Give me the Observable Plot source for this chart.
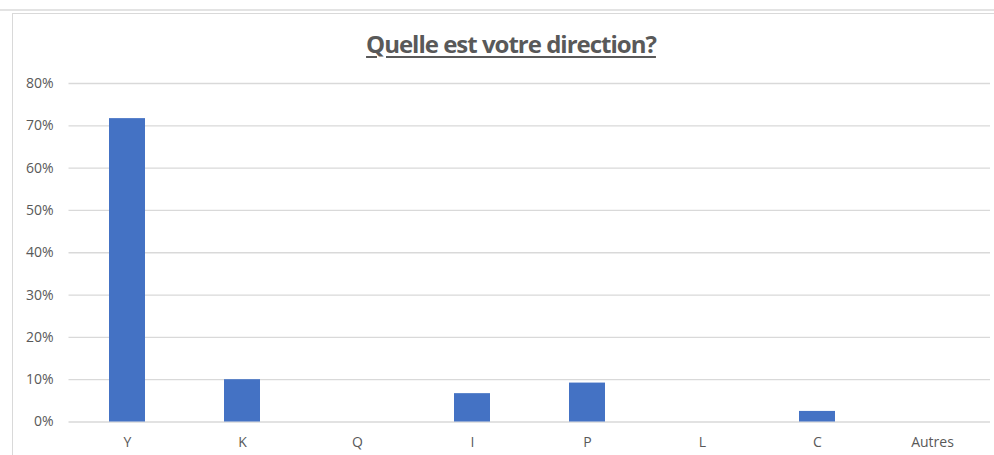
<!DOCTYPE html>
<html>
<head>
<meta charset="utf-8">
<script src="https://cdn.jsdelivr.net/npm/d3@7"></script>
<script src="https://cdn.jsdelivr.net/npm/@observablehq/plot@0.6"></script>
<style>
  html, body { margin: 0; padding: 0; background: #fff; }
  #wrap { position: relative; width: 994px; height: 455px; overflow: hidden; font-family: "Open Sans", sans-serif; }
  #topline { position: absolute; left: 0; top: 9px; width: 994px; height: 2px; background: #e3e3e3; }
  #frame { position: absolute; left: 12px; top: 13px; width: 1000px; height: 460px; border-left: 1px solid #d9d9d9; border-top: 1px solid #d9d9d9; }
  #title { position: absolute; left: 0; top: 32px; width: 994px; padding-left: 28px; box-sizing: border-box; text-align: center;
           font-family: "Open Sans", sans-serif; font-weight: bold; font-size: 24px; line-height: 24px; color: #595959;
           text-decoration: underline; text-decoration-thickness: 2px; text-underline-offset: 3px; letter-spacing: -1px; }
  #chart { position: absolute; left: 0; top: 0; }
</style>
</head>
<body>
<div id="wrap">
  <div id="topline"></div>
  <div id="frame"></div>
  <div id="chart"></div>
  <div id="title">Quelle est votre direction?</div>
</div>
<script>
const categories = ["Y", "K", "Q", "I", "P", "L", "C", "Autres"];
const values = [0.717, 0.100, 0, 0.067, 0.092, 0, 0.025, 0];
const yTicks = [0, 0.1, 0.2, 0.3, 0.4, 0.5, 0.6, 0.7, 0.8];

const data = categories.map((c, i) => ({cat: c, value: values[i]}));

const chart = Plot.plot({
  width: 994,
  height: 455,
  marginTop: 83,
  marginBottom: 33.5,
  marginLeft: 68.5,
  marginRight: 4,
  style: {fontFamily: "'Open Sans', sans-serif", fontSize: "14px", color: "#595959", background: "transparent"},
  x: {domain: categories, paddingInner: 0.6875, paddingOuter: 0.34375, label: null},
  y: {domain: [0, 0.8], label: null},
  marks: [
    Plot.gridY(yTicks, {stroke: "#d9d9d9", strokeOpacity: 1, strokeWidth: 1.3}),
    Plot.barY(data, {x: "cat", y: "value", fill: "#4472C4"}),
    Plot.axisY(yTicks, {tickSize: 0, tickPadding: 15.5, tickFormat: d => Math.round(d * 100) + "%", fill: "#595959", fontSize: 14, label: null}),
    Plot.axisX({tickSize: 0, tickPadding: 15, fill: "#595959", fontSize: 14, label: null})
  ]
});
document.getElementById("chart").appendChild(chart);
</script>
</body>
</html>
